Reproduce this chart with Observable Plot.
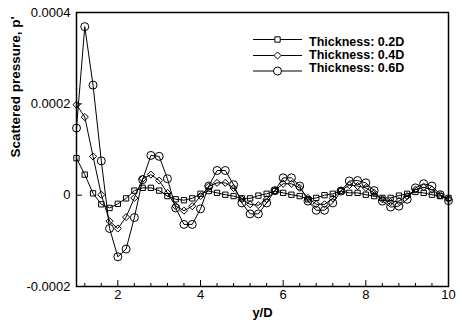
<!DOCTYPE html>
<html><head><meta charset="utf-8">
<script src="https://cdn.jsdelivr.net/npm/d3@7"></script>
<script src="https://cdn.jsdelivr.net/npm/@observablehq/plot@0.6"></script>
<style>body{margin:0;background:#fff;} #chart{width:457px;height:324px;}</style>
</head><body><div id="chart"></div>
<script>
// Data (pressure values in units of 1e-4)
const unit = 1e-4;
const yOverD = [1.0,1.2,1.4,1.6,1.8,2.0,2.2,2.4,2.6,2.8,3.0,3.2,3.4,3.6,3.8,4.0,4.2,4.4,4.6,4.8,5.0,5.2,5.4,5.6,5.8,6.0,6.2,6.4,6.6,6.8,7.0,7.2,7.4,7.6,7.8,8.0,8.2,8.4,8.6,8.8,9.0,9.2,9.4,9.6,9.8,10.0];
const thick02 = [0.81,0.45,0.04,-0.20,-0.28,-0.19,-0.07,0.10,0.16,0.16,0.10,-0.02,-0.09,-0.11,-0.07,0.03,0.09,0.05,0.01,-0.02,-0.07,-0.07,-0.01,0.03,0.09,0.05,0.01,-0.02,-0.09,-0.06,0.00,0.03,0.09,0.05,0.05,0.01,-0.02,-0.06,-0.06,-0.01,0.03,0.07,0.05,0.01,-0.02,-0.06];
const thick04 = [1.98,1.71,0.85,0.01,-0.57,-0.73,-0.48,-0.06,0.36,0.45,0.32,0.05,-0.24,-0.34,-0.24,-0.02,0.19,0.27,0.27,0.16,-0.09,-0.20,-0.22,-0.09,0.10,0.25,0.25,0.16,-0.06,-0.20,-0.20,-0.07,0.10,0.22,0.20,0.16,0.05,-0.09,-0.15,-0.13,-0.02,0.12,0.17,0.12,0.00,-0.09];
const thick06 = [1.47,3.69,2.41,0.75,-0.73,-1.35,-1.18,-0.49,0.34,0.87,0.85,0.36,-0.28,-0.64,-0.64,-0.30,0.20,0.54,0.54,0.23,-0.17,-0.41,-0.41,-0.17,0.10,0.38,0.38,0.20,-0.13,-0.33,-0.33,-0.17,0.09,0.31,0.32,0.27,0.10,-0.13,-0.26,-0.24,-0.09,0.16,0.25,0.20,0.01,-0.12];
const seriesNames = ["Thickness: 0.2D","Thickness: 0.4D","Thickness: 0.6D"];
const seriesSymbols = ["square","diamond2","circle"];
const xMajor = [2,4,6,8,10];
const xMinor = [1.2,1.6,2.4,2.8,3.2,3.6,4.4,4.8,5.2,5.6,6.4,6.8,7.2,7.6,8.4,8.8,9.2,9.6];
const yMajor = [-0.0002,0,0.0002,0.0004];
const yTickLabels = ["-0.0002","0","0.0002","0.0004"];
const xTitle = "y/D";
const yTitle = "Scattered pressure, p'";

const W = 457, H = 324, mL = 76, mR = 9, mT = 12, mB = 38;
const innerW = W - mL - mR, innerH = H - mT - mB;
const values = [thick02, thick04, thick06];
const radii = [3, 3.2, 4];
const series = seriesNames.map((name, si) =>
  values[si].map((v, i) => ({x: yOverD[i], y: v * unit, s: name})));

const marks = [
  Plot.tickX(xMajor, {x: d => d, insetTop: innerH - 6, stroke: "black", strokeWidth: 1}),
  Plot.tickX(xMinor, {x: d => d, insetTop: innerH - 3, stroke: "black", strokeWidth: 1}),
  Plot.tickY(yMajor, {y: d => d, insetRight: innerW - 6, stroke: "black", strokeWidth: 1}),
];
series.forEach((data, si) => {
  marks.push(Plot.line(data, {x: "x", y: "y", stroke: "black", strokeWidth: 1}));
  marks.push(Plot.dot(data, {x: "x", y: "y", symbol: () => seriesSymbols[si], r: radii[si], stroke: "black", fill: "none", strokeWidth: 1}));
});
marks.push(
  Plot.frame({stroke: "black", strokeWidth: 1.5}),
  Plot.axisX({ticks: xMajor, tickSize: 0, tickPadding: 3, tickFormat: d => String(d), fontSize: 13, label: null}),
  Plot.axisY({ticks: yMajor, tickSize: 0, tickPadding: 6, tickFormat: d => yTickLabels[yMajor.indexOf(d)], fontSize: 13, label: null}),
  Plot.text([xTitle], {frameAnchor: "bottom", text: d => d, dy: 26, lineAnchor: "middle", fontWeight: "bold", fontSize: 13}),
  Plot.text([yTitle], {frameAnchor: "left", text: d => d, dx: -61, dy: 8, rotate: -90, lineAnchor: "middle", fontWeight: "bold", fontSize: 13.5})
);

const plot = Plot.plot({
  width: W, height: H, marginLeft: mL, marginRight: mR, marginTop: mT, marginBottom: mB,
  style: {fontFamily: "'Liberation Sans', Arial, sans-serif", fontSize: "13px", color: "black", background: "white", overflow: "visible"},
  x: {domain: [1, 10]},
  y: {domain: [-0.0002, 0.0004]},
  marks
});

// Legend inside the plot
const svg = d3.select(plot);
const leg = svg.append("g")
  .attr("font-family", "'Liberation Sans', Arial, sans-serif")
  .attr("font-weight", "bold").attr("font-size", 12.5)
  .attr("text-anchor", "start");
const lineYs = [39.5, 55.5, 71];
const textYs = [42, 55, 68];
const symbolTypes = {square: d3.symbolSquare, diamond2: d3.symbolDiamond2, circle: d3.symbolCircle};
seriesNames.forEach((name, i) => {
  leg.append("line").attr("x1", 253).attr("x2", 302).attr("y1", lineYs[i]).attr("y2", lineYs[i]).attr("stroke", "black");
  const sym = d3.symbol(symbolTypes[seriesSymbols[i]], Math.PI * radii[i] * radii[i]);
  leg.append("path").attr("d", sym()).attr("transform", `translate(277.5,${lineYs[i]})`).attr("fill", "white").attr("stroke", "black");
  leg.append("text").attr("x", 309).attr("y", textYs[i]).attr("dy", "0.35em").text(name);
});

document.getElementById("chart").appendChild(plot);
</script>
</body></html>
